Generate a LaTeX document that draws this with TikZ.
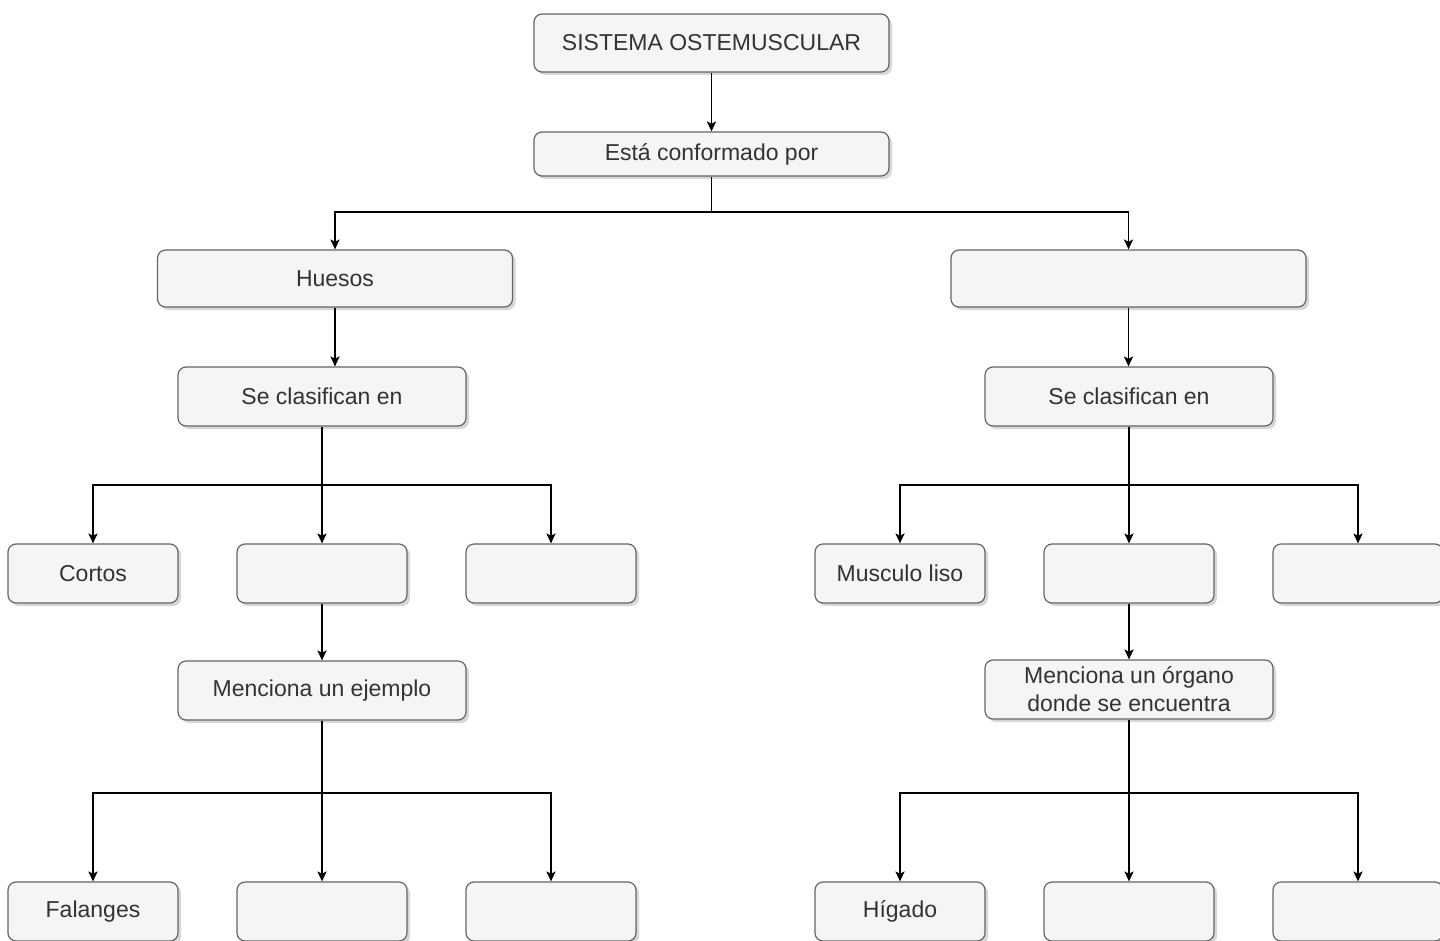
\documentclass[tikz,border=0pt]{standalone}
\usepackage{fontspec}
\setmainfont{Liberation Sans}
\usetikzlibrary{shapes,arrows.meta,positioning,shadows}
\definecolor{boxfill}{HTML}{F5F5F5}
\definecolor{boxdraw}{HTML}{666666}
\definecolor{boxtext}{HTML}{333333}

\begin{document}
\begin{tikzpicture}[
    x=0.5pt, y=-0.5pt,
    block/.style={
        rectangle,
        draw=boxdraw,
        fill=boxfill,
        text=boxtext,
        line width=0.6pt,
        rounded corners=4pt,
        align=center,
        inner sep=0pt,
        drop shadow={shadow xshift=1.5pt, shadow yshift=-1.5pt, opacity=0.35, fill=black!45},
        font=\fontsize{11.5}{14}\selectfont
    },
    widebox/.style={block, minimum width=177.5pt, minimum height=28.5pt},
    midbox/.style={block, minimum width=144pt, minimum height=29.5pt},
    smallbox/.style={block, minimum width=85pt, minimum height=29.5pt},
    line/.style={draw, line width=0.75pt, -{Stealth[length=5pt, width=4.6pt, inset=1.2pt]}}
]
\useasboundingbox (0,0) rectangle (1440,941);
\clip (0,0) rectangle (1440,941);

% Top
\node [widebox, minimum height=29pt] (sistema) at (711.5,43) {SISTEMA OSTEMUSCULAR};
\node [widebox, minimum height=22pt] (conformado) at (711.5,154) {Está conformado por};

% Second level
\node [widebox] (huesos) at (335,278.5) {Huesos};
\node [widebox] (musculos) at (1128.5,278.5) {};

\node [midbox] (clasH) at (322,396.5) {Se clasifican en};
\node [midbox] (clasM) at (1129,396.5) {Se clasifican en};

% Bone types
\node [smallbox] (cortos) at (93,573.5) {Cortos};
\node [smallbox] (largos) at (322,573.5) {};
\node [smallbox] (planos) at (551,573.5) {};

% Muscle types
\node [smallbox] (liso) at (900,573.5) {Musculo liso};
\node [smallbox] (estriado) at (1129,573.5) {};
\node [smallbox] (cardiaco) at (1358,573.5) {};

% Examples
\node [midbox] (ejemplo) at (322,690.5) {Menciona un ejemplo};
\node [midbox] (organo) at (1129,689.5) {Menciona un órgano\\donde se encuentra};

\node [smallbox] (falanges) at (93,911.5) {Falanges};
\node [smallbox] (ejemplo2) at (322,911.5) {};
\node [smallbox] (ejemplo3) at (551,911.5) {};

\node [smallbox] (higado) at (900,911.5) {Hígado};
\node [smallbox] (organo2) at (1129,911.5) {};
\node [smallbox] (organo3) at (1358,911.5) {};

% Fork points
\coordinate (forkTop) at (711.5,212);
\coordinate (forkH) at (322,485);
\coordinate (forkM) at (1129,485);
\coordinate (forkEj) at (322,793);
\coordinate (forkOr) at (1129,793);

% Connections
\draw [line] (sistema) -- (conformado);
\draw [line] (conformado.south) -- (forkTop) -| (huesos.north);
\draw [line] (forkTop) -| (musculos.north);

\draw [line] (huesos.south) -- (huesos.south |- clasH.north);
\draw [line] (musculos.south) -- (musculos.south |- clasM.north);

\draw [line] (clasH.south) -- (largos.north);
\draw [line] (forkH) -| (cortos.north);
\draw [line] (forkH) -| (planos.north);

\draw [line] (clasM.south) -- (estriado.north);
\draw [line] (forkM) -| (liso.north);
\draw [line] (forkM) -| (cardiaco.north);

\draw [line] (largos) -- (ejemplo);
\draw [line] (estriado) -- (organo);

\draw [line] (ejemplo.south) -- (ejemplo2.north);
\draw [line] (forkEj) -| (falanges.north);
\draw [line] (forkEj) -| (ejemplo3.north);

\draw [line] (organo.south) -- (organo2.north);
\draw [line] (forkOr) -| (higado.north);
\draw [line] (forkOr) -| (organo3.north);

\end{tikzpicture}
\end{document}
